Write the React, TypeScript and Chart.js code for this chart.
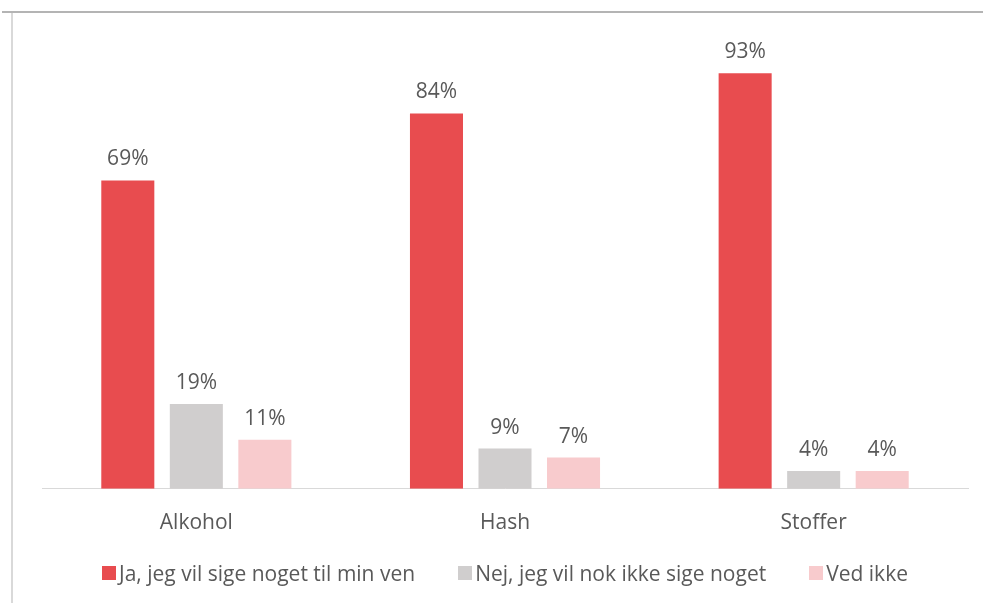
import React, { useEffect, useRef } from "react";
import { Chart, registerables } from "chart.js";

Chart.register(...registerables);

const categories = ["Alkohol", "Hash", "Stoffer"];
const seriesNames = [
  "Ja, jeg vil sige noget til min ven",
  "Nej, jeg vil nok ikke sige noget",
  "Ved ikke",
];
const jaValues = [69, 84, 93];
const nejValues = [19, 9, 4];
const vedIkkeValues = [11, 7, 4];
const colors = ["#E84C4F", "#D0CECE", "#F8CBCD"];

const FONT = "'Open Sans', sans-serif";
const TEXT = "#595959";

const labelPlugin = {
  id: "barLabels",
  afterDatasetsDraw(chart: any) {
    const ctx = chart.ctx;
    ctx.save();
    ctx.font = `21px ${FONT}`;
    ctx.fillStyle = TEXT;
    ctx.textAlign = "center";
    ctx.textBaseline = "middle";
    chart.data.datasets.forEach((ds: any, i: number) => {
      const meta = chart.getDatasetMeta(i);
      meta.data.forEach((bar: any, j: number) => {
        ctx.fillText(`${ds.data[j]}%`, bar.x, bar.y - 21);
      });
    });
    ctx.restore();
  },
};

export default function App() {
  const ref = useRef<HTMLCanvasElement>(null);
  useEffect(() => {
    if (!ref.current) return;
    const chart = new Chart(ref.current, {
      type: "bar",
      data: {
        labels: categories,
        datasets: [jaValues, nejValues, vedIkkeValues].map((d, i) => ({
          label: seriesNames[i],
          data: d,
          backgroundColor: colors[i],
          barPercentage: 0.774,
          categoryPercentage: 0.666,
        })),
      },
      options: {
        responsive: false,
        animation: false,
        maintainAspectRatio: false,
        layout: { padding: { left: 42, right: 15, top: 42, bottom: 53 } },
        scales: {
          x: {
            grid: { display: false },
            border: { color: "#D9D9D9", width: 1 },
            ticks: { color: TEXT, font: { size: 21, family: FONT }, padding: 14 },
          },
          y: { display: false, min: 0, max: 100 },
        },
        plugins: {
          tooltip: { enabled: false },
          legend: { display: false },
        },
      },
      plugins: [labelPlugin],
    });
    return () => chart.destroy();
  }, []);
  return (
    <div style={{ position: "absolute", left: 0, top: 0, width: 983, height: 603, background: "#fff" }}>
      <div style={{ position: "absolute", left: 2, top: 11, width: 981, height: 2, background: "#B4B4B4" }} />
      <div style={{ position: "absolute", left: 11, top: 13, width: 2, height: 590, background: "#D9D9D9" }} />
      <canvas ref={ref} width={983} height={603} style={{ position: "absolute", left: 0, top: 0 }} />
      <div
        style={{
          position: "absolute",
          left: 42,
          width: 926,
          top: 559,
          height: 28,
          display: "flex",
          justifyContent: "center",
          alignItems: "center",
          fontFamily: FONT,
          fontSize: 21,
          lineHeight: "28px",
          color: TEXT,
          gap: 43,
        }}
      >
        {seriesNames.map((n, i) => (
          <div key={n} style={{ display: "flex", alignItems: "center", whiteSpace: "nowrap" }}>
            <span style={{ display: "inline-block", width: 14, height: 14, background: colors[i], marginRight: 3 }} />
            <span>{n}</span>
          </div>
        ))}
      </div>
    </div>
  );
}
